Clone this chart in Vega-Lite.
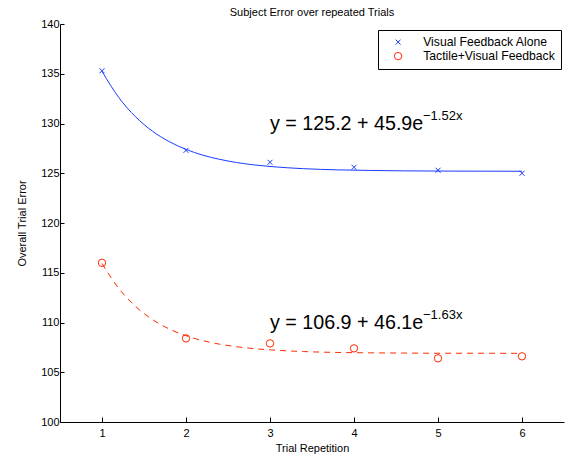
{
  "$schema": "https://vega.github.io/schema/vega-lite/v6.json",
  "width": 504,
  "height": 398,
  "autosize": {"type": "none"},
  "padding": {"left": 60, "top": 24, "right": 1, "bottom": 38},
  "background": "white",
  "config": {
    "font": "Liberation Sans",
    "view": {"stroke": null},
    "axis": {"grid": false, "domainColor": "black", "tickColor": "black", "labelColor": "black", "titleColor": "black", "labelFontSize": 11, "titleFontSize": 11, "titleFontWeight": "normal", "labelFont": "Liberation Sans", "titleFont": "Liberation Sans"}
  },
  "title": {"text": "Subject Error over repeated Trials", "fontSize": 11, "fontWeight": "normal", "font": "Liberation Sans", "color": "black", "offset": 0, "anchor": "middle"},
  "datasets": {
    "pts": [
      {"trial": 1, "error": 135.3, "group": "Visual Feedback Alone"},
      {"trial": 2, "error": 127.3, "group": "Visual Feedback Alone"},
      {"trial": 3, "error": 126.1, "group": "Visual Feedback Alone"},
      {"trial": 4, "error": 125.6, "group": "Visual Feedback Alone"},
      {"trial": 5, "error": 125.3, "group": "Visual Feedback Alone"},
      {"trial": 6, "error": 125.0, "group": "Visual Feedback Alone"},
      {"trial": 1, "error": 116.0, "group": "Tactile+Visual Feedback"},
      {"trial": 2, "error": 108.4, "group": "Tactile+Visual Feedback"},
      {"trial": 3, "error": 107.9, "group": "Tactile+Visual Feedback"},
      {"trial": 4, "error": 107.4, "group": "Tactile+Visual Feedback"},
      {"trial": 5, "error": 106.4, "group": "Tactile+Visual Feedback"},
      {"trial": 6, "error": 106.6, "group": "Tactile+Visual Feedback"}
    ],
    "fit": [
      {"x": 1.0, "y": 135.24, "g": "V"}, {"x": 1.2, "y": 132.61, "g": "V"}, {"x": 1.4, "y": 130.67, "g": "V"},
      {"x": 1.6, "y": 129.23, "g": "V"}, {"x": 1.8, "y": 128.18, "g": "V"}, {"x": 2.0, "y": 127.40, "g": "V"},
      {"x": 2.2, "y": 126.82, "g": "V"}, {"x": 2.4, "y": 126.40, "g": "V"}, {"x": 2.6, "y": 126.08, "g": "V"},
      {"x": 2.8, "y": 125.85, "g": "V"}, {"x": 3.0, "y": 125.68, "g": "V"}, {"x": 3.4, "y": 125.46, "g": "V"},
      {"x": 3.8, "y": 125.34, "g": "V"}, {"x": 4.2, "y": 125.28, "g": "V"}, {"x": 4.6, "y": 125.24, "g": "V"},
      {"x": 5.0, "y": 125.22, "g": "V"}, {"x": 5.5, "y": 125.21, "g": "V"}, {"x": 6.0, "y": 125.20, "g": "V"},
      {"x": 1.0, "y": 115.93, "g": "T"}, {"x": 1.2, "y": 113.42, "g": "T"}, {"x": 1.4, "y": 111.61, "g": "T"},
      {"x": 1.6, "y": 110.30, "g": "T"}, {"x": 1.8, "y": 109.35, "g": "T"}, {"x": 2.0, "y": 108.67, "g": "T"},
      {"x": 2.2, "y": 108.18, "g": "T"}, {"x": 2.4, "y": 107.82, "g": "T"}, {"x": 2.6, "y": 107.57, "g": "T"},
      {"x": 2.8, "y": 107.38, "g": "T"}, {"x": 3.0, "y": 107.25, "g": "T"}, {"x": 3.4, "y": 107.08, "g": "T"},
      {"x": 3.8, "y": 106.99, "g": "T"}, {"x": 4.2, "y": 106.95, "g": "T"}, {"x": 4.6, "y": 106.93, "g": "T"},
      {"x": 5.0, "y": 106.91, "g": "T"}, {"x": 5.5, "y": 106.91, "g": "T"}, {"x": 6.0, "y": 106.90, "g": "T"}
    ],
    "eq": [
      {"x": 3, "y": 130, "main": "y = 125.2 + 45.9e", "sup": "−1.52x"},
      {"x": 3, "y": 110, "main": "y = 106.9 + 46.1e", "sup": "−1.63x"}
    ]
  },
  "layer": [
    {
      "data": {"name": "fit"},
      "transform": [{"filter": "datum.g == 'V'"}],
      "mark": {"type": "line", "color": "#1a3cff", "strokeWidth": 1, "interpolate": "monotone"},
      "encoding": {
        "x": {"field": "x", "type": "quantitative", "scale": {"domain": [0.5, 6.5], "nice": false, "zero": false},
              "axis": {"values": [1, 2, 3, 4, 5, 6], "format": "d", "tickSize": -5, "labelPadding": 10, "title": "Trial Repetition", "titlePadding": 4}},
        "y": {"field": "y", "type": "quantitative", "scale": {"domain": [100, 140], "nice": false, "zero": false},
              "axis": {"values": [100, 105, 110, 115, 120, 125, 130, 135, 140], "tickSize": -4, "labelPadding": 5, "title": "Overall Trial Error", "titlePadding": 13}}
      }
    },
    {
      "data": {"name": "fit"},
      "transform": [{"filter": "datum.g == 'T'"}],
      "mark": {"type": "line", "color": "#ff2a00", "strokeWidth": 1, "strokeDash": [6, 5], "interpolate": "monotone"},
      "encoding": {
        "x": {"field": "x", "type": "quantitative"},
        "y": {"field": "y", "type": "quantitative"}
      }
    },
    {
      "data": {"name": "pts"},
      "mark": {"type": "point", "filled": false, "strokeWidth": 1, "opacity": 1},
      "encoding": {
        "x": {"field": "trial", "type": "quantitative"},
        "y": {"field": "error", "type": "quantitative"},
        "color": {"field": "group", "type": "nominal",
                  "scale": {"domain": ["Visual Feedback Alone", "Tactile+Visual Feedback"], "range": ["#1a3cff", "#ff2a00"]},
                  "legend": {"orient": "none", "legendX": 318, "legendY": 6, "title": null, "strokeColor": "black", "fillColor": "white",
                             "padding": 6, "labelFontSize": 12.2, "labelFont": "Liberation Sans", "labelColor": "black", "symbolSize": 40,
                             "symbolStrokeWidth": 1, "symbolOffset": 8, "labelOffset": 19, "rowPadding": 1, "cornerRadius": 0}},
        "shape": {"field": "group", "type": "nominal",
                  "scale": {"domain": ["Visual Feedback Alone", "Tactile+Visual Feedback"], "range": ["M-1,-1L1,1M-1,1L1,-1", "circle"]}},
        "size": {"field": "group", "type": "nominal", "legend": null,
                 "scale": {"domain": ["Visual Feedback Alone", "Tactile+Visual Feedback"], "range": [25, 55]}}
      }
    },
    {
      "data": {"name": "eq"},
      "mark": {"type": "text", "align": "left", "baseline": "middle", "fontSize": 19.7, "font": "Liberation Sans", "color": "black"},
      "encoding": {
        "x": {"field": "x", "type": "quantitative"},
        "y": {"field": "y", "type": "quantitative"},
        "text": {"field": "main"}
      }
    },
    {
      "data": {"name": "eq"},
      "mark": {"type": "text", "align": "left", "baseline": "middle", "fontSize": 13, "font": "Liberation Sans", "color": "black", "dx": 153, "dy": -8},
      "encoding": {
        "x": {"field": "x", "type": "quantitative"},
        "y": {"field": "y", "type": "quantitative"},
        "text": {"field": "sup"}
      }
    }
  ]
}
